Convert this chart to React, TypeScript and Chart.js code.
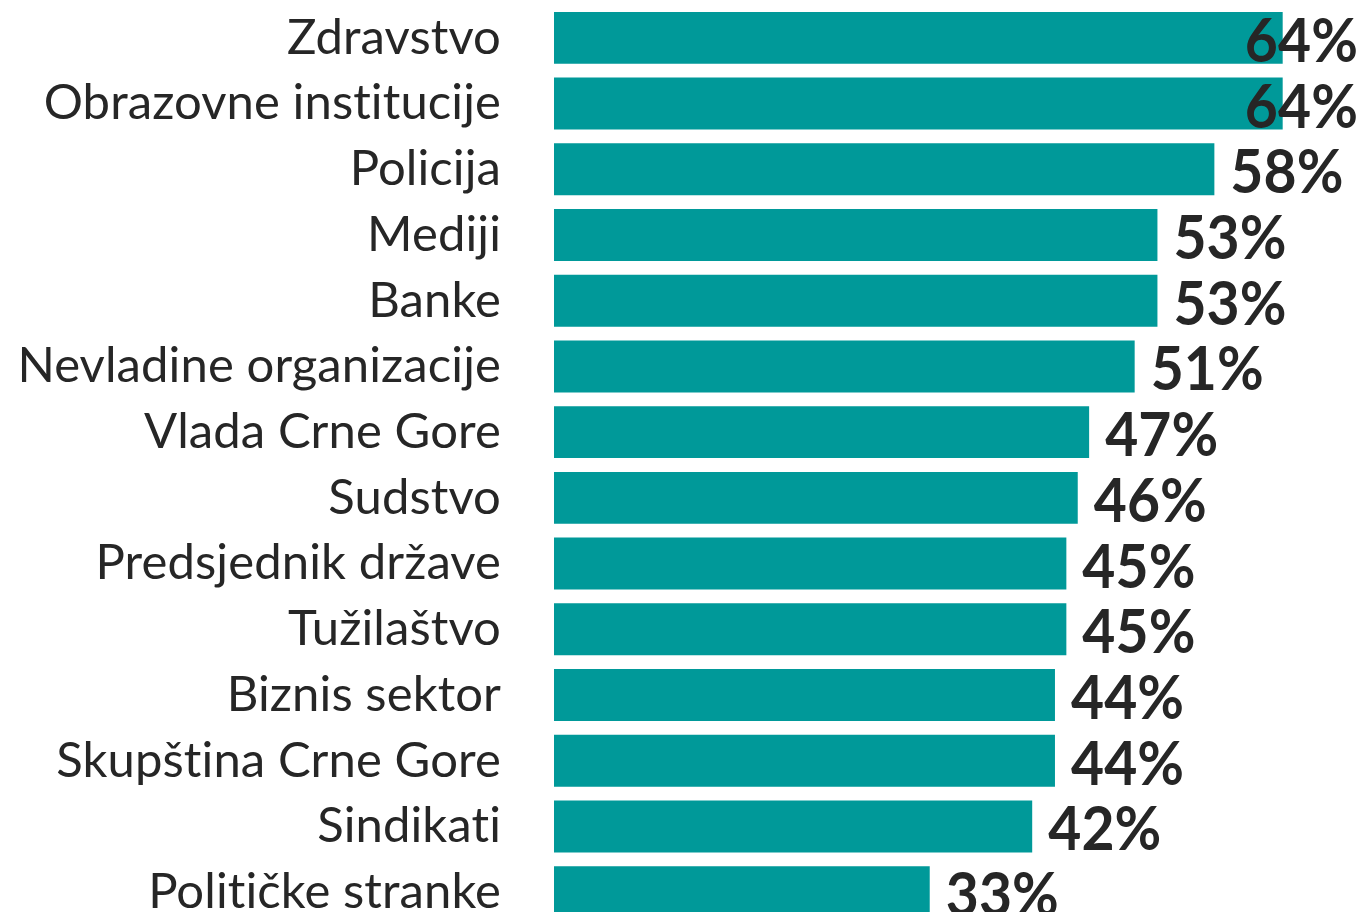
import React, { useEffect, useRef } from "react";
import { Chart, registerables } from "chart.js";

Chart.register(...registerables);

const categories = [
  "Zdravstvo",
  "Obrazovne institucije",
  "Policija",
  "Mediji",
  "Banke",
  "Nevladine organizacije",
  "Vlada Crne Gore",
  "Sudstvo",
  "Predsjednik države",
  "Tužilaštvo",
  "Biznis sektor",
  "Skupština Crne Gore",
  "Sindikati",
  "Političke stranke",
];

const values = [64, 64, 58, 53, 53, 51, 47, 46, 45, 45, 44, 44, 42, 33];

const BAR_COLOR = "#009999";
const TEXT_COLOR = "#262626";

const noLigaturePlugin = {
  id: "noLigatures",
  beforeUpdate(chart: any) {
    try {
      chart.ctx.letterSpacing = "0.1px";
    } catch (e) {}
  },
  beforeDraw(chart: any) {
    try {
      chart.ctx.letterSpacing = "0.1px";
    } catch (e) {}
  },
};

const valueLabelPlugin = {
  id: "valueLabels",
  afterDatasetsDraw(chart: any) {
    const { ctx } = chart;
    const meta = chart.getDatasetMeta(0);
    const canvasW = chart.width;
    ctx.save();
    ctx.font = "bold 62px Lato";
    ctx.fillStyle = TEXT_COLOR;
    ctx.textBaseline = "middle";
    ctx.textAlign = "left";
    const sx = 0.92;
    meta.data.forEach((bar: any, i: number) => {
      const text = values[i] + "%";
      const w = ctx.measureText(text).width * sx;
      let x = bar.x + 16;
      if (x + w > canvasW - 3) x = canvasW - 3 - w;
      ctx.save();
      ctx.translate(x, bar.y + 4);
      ctx.scale(sx, 1);
      ctx.fillText(text, 0, 0);
      ctx.restore();
    });
    ctx.restore();
  },
};

export default function App() {
  const ref = useRef<HTMLCanvasElement | null>(null);
  useEffect(() => {
    if (!ref.current) return;
    const chart = new Chart(ref.current, {
      type: "bar",
      data: {
        labels: categories,
        datasets: [
          {
            data: values,
            backgroundColor: BAR_COLOR,
            borderWidth: 0,
            barPercentage: 0.79,
            categoryPercentage: 1,
          },
        ],
      },
      options: {
        indexAxis: "y",
        animation: false,
        responsive: false,
        maintainAspectRatio: false,
        layout: { padding: { left: 0, right: 10, top: 5, bottom: 0 } },
        plugins: {
          legend: { display: false },
          tooltip: { enabled: false },
        },
        scales: {
          x: {
            display: false,
            min: 0,
            max: 70,
          },
          y: {
            grid: { display: false, drawTicks: false },
            border: { display: false },
            ticks: {
              color: TEXT_COLOR,
              font: { family: "Lato", size: 49 },
              padding: 53,
              autoSkip: false,
            },
            afterFit(scale: any) {
              scale.width = 554;
              scale.paddingTop = 0;
              scale.paddingBottom = 0;
            },
          },
        },
      },
      plugins: [noLigaturePlugin, valueLabelPlugin],
    });
    return () => chart.destroy();
  }, []);
  return (
    <div
      style={{
        position: "fixed",
        left: 0,
        top: 0,
        width: 1361,
        height: 912,
        overflow: "hidden",
        background: "#ffffff",
      }}
    >
      <canvas ref={ref} width={1361} height={925} style={{ display: "block" }} />
    </div>
  );
}
